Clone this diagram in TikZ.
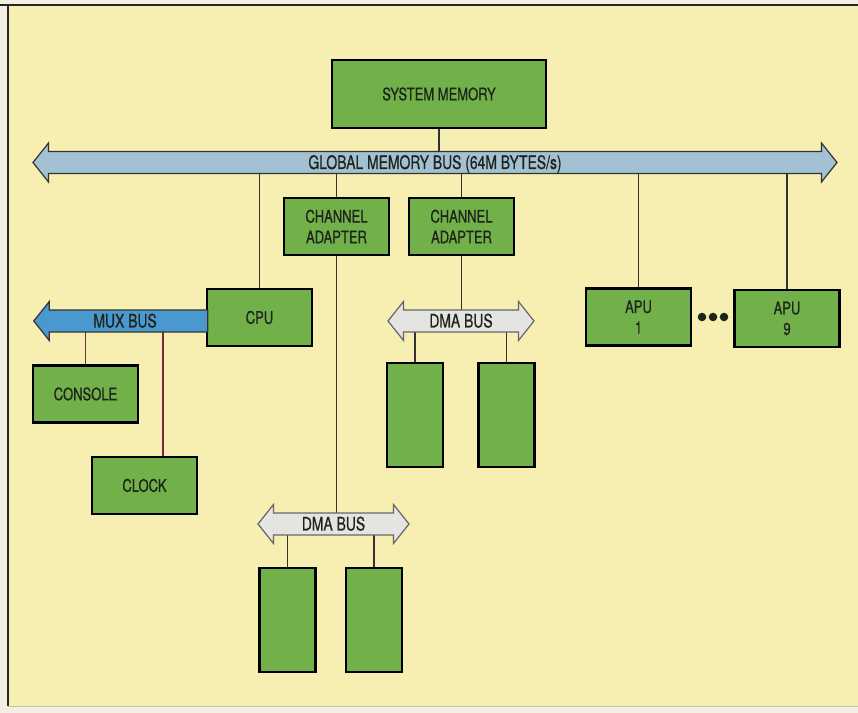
\documentclass[tikz,border=0pt]{standalone}
\usepackage{fontspec}
\setmainfont{TeX Gyre Heros}[FakeStretch=0.75,FakeBold=0.6]
\usetikzlibrary{arrows.meta,calc,positioning,shapes.arrows,backgrounds}
\definecolor{paper}{HTML}{F3EFE3}
\definecolor{pagebg}{HTML}{F7EEB2}
\definecolor{boxgreen}{HTML}{72B04A}
\definecolor{gbusblue}{HTML}{A3C1D2}
\definecolor{muxblue}{HTML}{4A98D0}
\definecolor{dmagrey}{HTML}{E4E4E2}
\definecolor{inkc}{HTML}{1E241A}
\definecolor{muxwirec}{HTML}{7A2A3A}

\begin{document}
\begin{tikzpicture}[x=0.75pt,y=-0.75pt,
  font=\fontsize{13}{15.5}\selectfont,
  modbox/.style={draw=black,line width=1.8pt,fill=boxgreen,text=inkc,align=center,
    minimum width=78.75pt,minimum height=42.75pt,inner sep=0pt},
  tallbox/.style={modbox,minimum width=42pt,minimum height=78pt},
  busbase/.style={text=inkc,inner xsep=0pt,inner ysep=0pt,font=\fontsize{13.9}{15}\selectfont,
    text height=12.6pt,text depth=2.9pt,line width=0.9pt,minimum width=28.5pt},
  gbusarrow/.style={busbase,double arrow,draw=black!80,fill=gbusblue,
    double arrow head extend=6.4pt,double arrow tip angle=103},
  dmaarrow/.style={busbase,double arrow,draw=black!60,fill=dmagrey,
    double arrow head extend=6.4pt,double arrow tip angle=103},
  muxarrow/.style={busbase,single arrow,draw=black!80,fill=muxblue,
    single arrow head extend=6.4pt,single arrow tip angle=103,shape border rotate=180},
  wire/.style={draw=black!80,line width=0.85pt},
  muxwire/.style={draw=muxwirec,line width=0.85pt}]
  \useasboundingbox (0,0) rectangle (858,713);

  % modules
  \node[modbox,minimum width=160.5pt,minimum height=51pt] (sysmem) at (439,94) {SYSTEM MEMORY};
  \node[modbox] (ca1) at (336.5,226.5) {CHANNEL\\ADAPTER};
  \node[modbox] (ca2) at (461.5,226.5) {CHANNEL\\ADAPTER};
  \node[modbox] (cpu) at (259.5,317.5) {CPU};
  \node[modbox] (apu1) at (638.5,317) {APU\\1};
  \node[modbox] (apu9) at (787,318.5) {APU\\9};
  \node[modbox] (console) at (85.5,394) {CONSOLE};
  \node[modbox] (clock) at (144.5,485.5) {CLOCK};
  \node[tallbox] (dmaa) at (415,415) {};
  \node[tallbox] (dmab) at (506.5,415) {};
  \node[tallbox] (dmac) at (287.5,620) {};
  \node[tallbox] (dmad) at (374,620) {};

  % buses
  \node[gbusarrow,minimum height=603pt] (gbus) at (435,162.5) {GLOBAL MEMORY BUS (64M BYTES/s)};
  \node[muxarrow,minimum height=130.5pt,anchor=tip] (mux) at (33,321) {MUX BUS};
  \node[dmaarrow,minimum height=109.5pt] (dma1) at (461,321) {DMA BUS};
  \node[dmaarrow,minimum height=113.25pt] (dma2) at (333.5,524) {DMA BUS};

  \foreach \d in {702,713,724}
    \fill[inkc] (\d,317) circle (3.2pt);

  \begin{scope}[on background layer]
    \fill[paper] (0,0) rectangle (858,713);
    \fill[pagebg] (8,5) rectangle (858,706);
    \draw[line width=1.2pt,black!85] (0,5) -- (858,5);
    \draw[line width=1.2pt,black!85] (8,5) -- (8,706);
    \draw[line width=0.6pt,black!25] (8,706) -- (858,706);
    % connections
    \draw[wire] (sysmem.south) -- (sysmem.south |- gbus.center);
    \foreach \m in {cpu,ca1,ca2,apu1,apu9}
      \draw[wire] (\m.north) -- (\m.north |- gbus.center);
    \draw[wire] (ca1.south) -- (ca1.south |- dma2.center);
    \draw[wire] (ca2.south) -- (ca2.south |- dma1.center);
    \foreach \m in {dmaa,dmab}
      \draw[wire] (\m.north) -- (\m.north |- dma1.center);
    \foreach \m in {dmac,dmad}
      \draw[wire] (\m.north) -- (\m.north |- dma2.center);
    \draw[muxwire] (console.north) -- (console.north |- mux.center);
    \coordinate (clkin) at ($(clock.north)+(18.5,0)$);
    \draw[muxwire] (clkin) -- (clkin |- mux.center);
  \end{scope}
\end{tikzpicture}
\end{document}
